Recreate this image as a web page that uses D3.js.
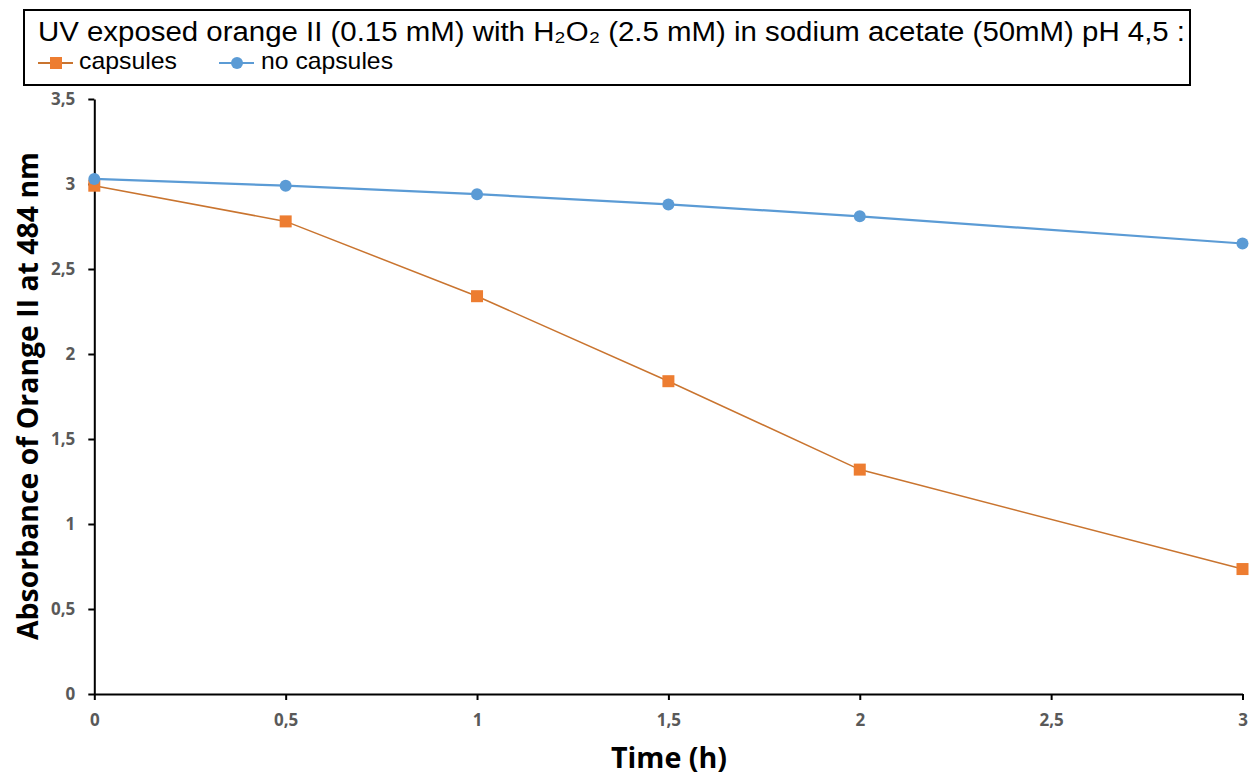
<!DOCTYPE html>
<html><head><meta charset="utf-8">
<script src="https://cdn.jsdelivr.net/npm/d3@7"></script>
<style>body{margin:0;background:#fff;}svg{display:block;font-family:"Open Sans",sans-serif;}</style>
</head><body><svg id="c" width="1253" height="776"></svg>
<script>
const times = [0, 0.5, 1, 1.5, 2, 3];
const capsules = [2.99, 2.78, 2.34, 1.84, 1.32, 0.735];
const noCapsules = [3.03, 2.99, 2.94, 2.88, 2.81, 2.65];
const xTicks = [0, 0.5, 1, 1.5, 2, 2.5, 3];
const yTicks = [0, 0.5, 1, 1.5, 2, 2.5, 3, 3.5];
const titleText = "UV exposed orange II (0.15 mM) with H₂O₂ (2.5 mM) in sodium acetate (50mM) pH 4,5 :";
const seriesNames = ["capsules", "no capsules"];
const colors = ["#ED7D31", "#5B9BD5"];
const lineColors = ["#C9742F", "#5B9BD5"];

const svg = d3.select("#c");
const x = d3.scaleLinear().domain([0, 3]).range([94.3, 1242.5]);
const y = d3.scaleLinear().domain([0, 3.5]).range([694, 99]);
const fmt = d => String(d).replace(".", ",");

// axes
const xAxis = svg.append("g").attr("transform", `translate(0,${y(0)})`)
  .call(d3.axisBottom(x).tickValues(xTicks).tickFormat(fmt).tickSize(6).tickSizeOuter(0));
const yAxis = svg.append("g").attr("transform", `translate(${x(0)},0)`)
  .call(d3.axisLeft(y).tickValues(yTicks).tickFormat(fmt).tickSize(6).tickSizeOuter(0));
[xAxis, yAxis].forEach(a => {
  a.attr("font-size", 17).attr("font-family", "'Open Sans',sans-serif").attr("font-weight", "bold");
  a.select(".domain").attr("stroke", "#000").attr("stroke-width", 2);
  a.selectAll(".tick line").attr("stroke", "#000").attr("stroke-width", 2);
  a.selectAll(".tick text").attr("fill", "#595959")
    .style("font-size", "17px").style("font-weight", "bold");
});
xAxis.selectAll(".tick text").attr("y", 20).attr("dy", "0.71em");
yAxis.selectAll(".tick text").attr("x", -19);

// lines
const series = [capsules, noCapsules];
const line = d3.line().x((d, i) => x(times[i])).y(d => y(d));
series.forEach((s, k) => {
  svg.append("path").datum(s).attr("d", line).attr("fill", "none")
    .attr("stroke", lineColors[k]).attr("stroke-width", k === 0 ? 1.5 : 2.2);
});
// markers
svg.selectAll(".sq").data(capsules).join("rect")
  .attr("x", (d, i) => x(times[i]) - 6).attr("y", d => y(d) - 6)
  .attr("width", 12).attr("height", 12).attr("fill", colors[0]);
svg.selectAll(".ci").data(noCapsules).join("circle")
  .attr("cx", (d, i) => x(times[i])).attr("cy", d => y(d)).attr("r", 6).attr("fill", colors[1]);

// axis titles
svg.append("text").attr("x", 669).attr("y", 768).attr("text-anchor", "middle")
  .attr("font-size", 28).attr("font-weight", "bold").attr("fill", "#000")
  .attr("textLength", 116).attr("lengthAdjust", "spacingAndGlyphs").text("Time (h)");
svg.append("text").attr("transform", "translate(38,396) rotate(-90)").attr("text-anchor", "middle")
  .attr("font-size", 28).attr("font-weight", "bold").attr("fill", "#000")
  .attr("textLength", 488).attr("lengthAdjust", "spacingAndGlyphs").text("Absorbance of Orange II at 484 nm");

// legend box
const legendFont = "'Liberation Sans',Arial,sans-serif";
svg.append("rect").attr("x", 24).attr("y", 10).attr("width", 1166).attr("height", 75)
  .attr("fill", "#fff").attr("stroke", "#000").attr("stroke-width", 2);
svg.append("text").attr("x", 38).attr("y", 41).attr("font-size", 27).attr("fill", "#000")
  .attr("font-family", legendFont)
  .attr("textLength", 1147).attr("lengthAdjust", "spacingAndGlyphs").text(titleText);
const legX = [38, 219];
const legTextX = [79, 261];
const legTextW = [98, 132];
seriesNames.forEach((n, k) => {
  const g = svg.append("g").attr("transform", `translate(${legX[k]},63)`);
  g.append("line").attr("x1", 0).attr("x2", 35).attr("stroke", lineColors[k]).attr("stroke-width", 2);
  if (k === 0) g.append("rect").attr("x", 12).attr("y", -6).attr("width", 12).attr("height", 12).attr("fill", colors[0]);
  else g.append("circle").attr("cx", 18).attr("r", 6).attr("fill", colors[1]);
  g.append("text").attr("x", legTextX[k] - legX[k]).attr("y", 6).attr("font-size", 24).attr("fill", "#000")
    .attr("font-family", legendFont)
    .attr("textLength", legTextW[k]).attr("lengthAdjust", "spacingAndGlyphs").text(n);
});
</script></body></html>
